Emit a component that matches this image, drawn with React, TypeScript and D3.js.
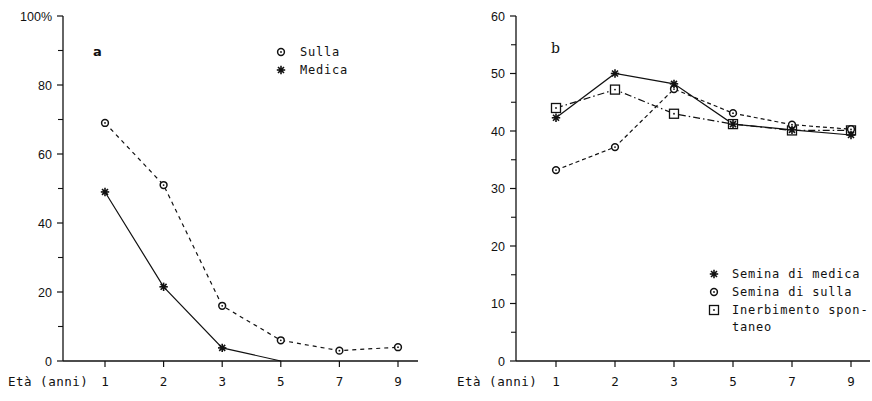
import React from "react";
import * as d3 from "d3";

const ages = ["1", "2", "3", "5", "7", "9"];

// Panel a
const aTicks = [0, 20, 40, 60, 80, 100];
const aMinor = [10, 30, 50, 70, 90];
const sullaA = [69, 51, 16, 6, 3, 4];
const medicaA: (number | null)[] = [49, 21.5, 3.8, 0, null, null];

// Panel b
const bTicks = [0, 10, 20, 30, 40, 50, 60];
const bMinor = [5, 15, 25, 35, 45, 55];
const medicaB = [42.3, 50, 48.2, 41.2, 40.2, 39.3];
const sullaB = [33.2, 37.2, 47.3, 43.1, 41.1, 40.3];
const inerbB = [44, 47.2, 43, 41.2, 40.1, 40.1];

const MONO = "'DejaVu Sans Mono', 'Liberation Mono', monospace";
const SANS = "'Liberation Sans', 'DejaVu Sans', sans-serif";

function Star({ x, y, r = 4.2 }: { x: number; y: number; r?: number }) {
  const arms = [0, 45, 90, 135].map((a) => {
    const rad = (a * Math.PI) / 180;
    return (
      <line
        key={a}
        x1={x - r * Math.cos(rad)}
        y1={y - r * Math.sin(rad)}
        x2={x + r * Math.cos(rad)}
        y2={y + r * Math.sin(rad)}
        stroke="#111"
        strokeWidth={1.6}
      />
    );
  });
  return <g>{arms}<circle cx={x} cy={y} r={1.8} fill="#111" /></g>;
}

function Circ({ x, y }: { x: number; y: number }) {
  return (
    <g>
      <circle cx={x} cy={y} r={3.4} fill="#fff" stroke="#111" strokeWidth={1.5} />
      <circle cx={x} cy={y} r={0.9} fill="#111" />
    </g>
  );
}

function Sq({ x, y }: { x: number; y: number }) {
  return (
    <g>
      <rect x={x - 4.5} y={y - 4.5} width={9} height={9} fill="#fff" stroke="#111" strokeWidth={1.3} />
      <circle cx={x} cy={y} r={0.9} fill="#111" />
    </g>
  );
}

function Panel({
  axX, axEnd, top, bottom, xFirst, xLast, max, ticks, minor, pct, children, labelX,
}: any) {
  const y = d3.scaleLinear().domain([0, max]).range([bottom, top]);
  const x = d3.scalePoint<string>().domain(ages).range([xFirst, xLast]);
  return (
    <g>
      <line x1={axX} y1={top} x2={axX} y2={bottom} stroke="#111" strokeWidth={1.3} />
      <line x1={axX} y1={bottom} x2={axEnd} y2={bottom} stroke="#111" strokeWidth={1.3} />
      {ticks.map((t: number) => (
        <g key={t}>
          <line x1={axX - 6} x2={axX} y1={y(t)} y2={y(t)} stroke="#111" strokeWidth={1.2} />
          <text x={axX - 11} y={y(t) + 4.5} textAnchor="end" fontFamily={SANS} fontSize={12.5} fill="#111">
            {t}{pct && t === max ? "%" : ""}
          </text>
        </g>
      ))}
      {minor.map((t: number) => (
        <line key={t} x1={axX - 5} x2={axX} y1={y(t)} y2={y(t)} stroke="#111" strokeWidth={1.1} />
      ))}
      {ages.map((a) => (
        <g key={a}>
          <line x1={x(a)} x2={x(a)} y1={bottom} y2={bottom + 6} stroke="#111" strokeWidth={1.2} />
          <text x={x(a)} y={bottom + 25} textAnchor="middle" fontFamily={MONO} fontSize={12.5} fill="#111">
            {a}
          </text>
        </g>
      ))}
      <text x={labelX} y={bottom + 25} fontFamily={MONO} fontSize={12.5} letterSpacing={0.5} fill="#111">Età (anni)</text>
      {children(x, y)}
    </g>
  );
}

function series(x: any, y: any, vals: (number | null)[], dash: string | undefined) {
  const line = d3
    .line<number | null>()
    .defined((d) => d !== null)
    .x((_, i) => x(ages[i]))
    .y((d) => y(d as number));
  return <path d={line(vals) || ""} fill="none" stroke="#111" strokeWidth={1.2} strokeDasharray={dash} />;
}

const LEG = { fontFamily: MONO, fontSize: 12, letterSpacing: 0.8, fill: "#111" };

export default function App() {
  return (
    <svg width={872} height={401} style={{ position: "absolute", left: 0, top: 0, background: "#fff" }}>
      <rect width={872} height={401} fill="#fff" />
      <Panel axX={63} axEnd={418} top={16} bottom={361} xFirst={105} xLast={398} max={100}
        ticks={aTicks} minor={aMinor} pct labelX={8}>
        {(x: any, y: any) => (
          <g>
            {series(x, y, sullaA, "4,4")}
            {series(x, y, medicaA, undefined)}
            {sullaA.map((v, i) => <Circ key={i} x={x(ages[i])} y={y(v)} />)}
            {medicaA.map((v, i) => (v !== null && v > 0 ? <Star key={i} x={x(ages[i])} y={y(v)} /> : null))}
            <text x={93} y={56} fontFamily="'DejaVu Sans', sans-serif" fontWeight="bold" fontSize={13} fill="#111">a</text>
            <Circ x={281} y={52} />
            <Star x={281} y={70} />
            <text x={300} y={56} {...LEG}>Sulla</text>
            <text x={300} y={74} {...LEG}>Medica</text>
          </g>
        )}
      </Panel>
      <Panel axX={516} axEnd={870} top={16} bottom={361} xFirst={556} xLast={851} max={60}
        ticks={bTicks} minor={bMinor} pct={false} labelX={457}>
        {(x: any, y: any) => (
          <g>
            {series(x, y, inerbB, "7,3,1.5,3")}
            {series(x, y, sullaB, "4,3")}
            {series(x, y, medicaB, undefined)}
            {inerbB.map((v, i) => <Sq key={i} x={x(ages[i])} y={y(v)} />)}
            {sullaB.map((v, i) => <Circ key={i} x={x(ages[i])} y={y(v)} />)}
            {medicaB.map((v, i) => <Star key={i} x={x(ages[i])} y={y(v)} />)}
            <text x={551} y={53} fontFamily="'DejaVu Serif', serif" fontSize={14} fill="#111">b</text>
            <Star x={714} y={274} />
            <Circ x={714} y={292} />
            <Sq x={714} y={310} />
            <text x={732} y={278} {...LEG}>Semina di medica</text>
            <text x={732} y={296} {...LEG}>Semina di sulla</text>
            <text x={732} y={314} {...LEG}>Inerbimento spon-</text>
            <text x={732} y={331} {...LEG}>taneo</text>
          </g>
        )}
      </Panel>
    </svg>
  );
}
